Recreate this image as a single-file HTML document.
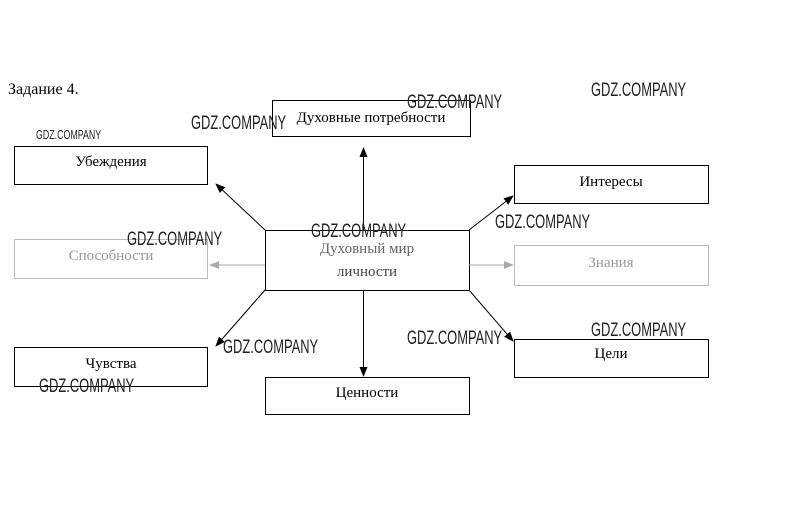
<!DOCTYPE html>
<html><head><meta charset="utf-8"><style>
html,body{margin:0;padding:0;background:#fff;}
svg{display:block}
.t{font-family:"Liberation Serif","Noto Serif CJK SC",serif;font-size:15px;fill:#000}
.w{font-family:"Liberation Sans","DejaVu Sans",sans-serif;fill:#222}
</style></head><body>
<svg width="810" height="518" viewBox="0 0 810 518" xmlns="http://www.w3.org/2000/svg">
<defs>
<marker id="a" markerWidth="10" markerHeight="8" refX="9" refY="4" orient="auto" markerUnits="userSpaceOnUse"><path d="M0,0 L10,4 L0,8 z" fill="#000"/></marker>
<marker id="g" markerWidth="10" markerHeight="8" refX="9" refY="4" orient="auto" markerUnits="userSpaceOnUse"><path d="M0,0 L10,4 L0,8 z" fill="#aaa"/></marker>
</defs>
<text x="8" y="94" class="t" style="font-size:16px">Задание 4.</text>
<g fill="none" stroke="#000" stroke-width="1">
<rect x="272.5" y="100.5" width="198" height="36"/>
<rect x="14.5" y="146.5" width="193" height="38"/>
<rect x="514.5" y="165.5" width="194" height="38"/>
<rect x="265.5" y="230.5" width="204" height="60"/>
<rect x="14.5" y="347.5" width="193" height="39"/>
<rect x="514.5" y="339.5" width="194" height="38"/>
<rect x="265.5" y="377.5" width="204" height="37"/>
</g>
<g fill="none" stroke="#bbb" stroke-width="1">
<rect x="14.5" y="239.5" width="193" height="39"/>
<rect x="514.5" y="245.5" width="194" height="40"/>
</g>
<g stroke="#000" stroke-width="1">
<line x1="363.5" y1="230" x2="363.5" y2="148" marker-end="url(#a)"/>
<line x1="265" y1="230" x2="216" y2="184" marker-end="url(#a)"/>
<line x1="469" y1="230" x2="513" y2="196" marker-end="url(#a)"/>
<line x1="265" y1="290" x2="216" y2="346" marker-end="url(#a)"/>
<line x1="469" y1="290" x2="513" y2="341" marker-end="url(#a)"/>
<line x1="363.5" y1="290" x2="363.5" y2="376" marker-end="url(#a)"/>
</g>
<g stroke="#aaa" stroke-width="1">
<line x1="265" y1="265" x2="210" y2="265" marker-end="url(#g)"/>
<line x1="469" y1="265" x2="513" y2="265" marker-end="url(#g)"/>
</g>
<text x="371" y="122" class="t" text-anchor="middle">Духовные потребности</text>
<text x="111" y="166" class="t" text-anchor="middle">Убеждения</text>
<text x="611" y="186" class="t" text-anchor="middle">Интересы</text>
<text x="367" y="253" class="t" text-anchor="middle" style="fill:#666">Духовный мир</text>
<text x="367" y="276" class="t" text-anchor="middle" style="fill:#444">личности</text>
<text x="111" y="260" class="t" text-anchor="middle" style="fill:#999">Способности</text>
<text x="611" y="267" class="t" text-anchor="middle" style="fill:#999">Знания</text>
<text x="111" y="368" class="t" text-anchor="middle">Чувства</text>
<text x="611" y="358" class="t" text-anchor="middle">Цели</text>
<text x="367" y="397" class="t" text-anchor="middle">Ценности</text>
<g class="w">
<text transform="translate(407,108) scale(0.68,1)" style="font-size:19px">GDZ.COMPANY</text>
<text transform="translate(591,96) scale(0.68,1)" style="font-size:19px">GDZ.COMPANY</text>
<text transform="translate(191,129) scale(0.68,1)" style="font-size:19px">GDZ.COMPANY</text>
<text transform="translate(36,139) scale(0.68,1)" style="font-size:13px">GDZ.COMPANY</text>
<text transform="translate(311,237) scale(0.68,1)" style="font-size:19px">GDZ.COMPANY</text>
<text transform="translate(495,228) scale(0.68,1)" style="font-size:19px">GDZ.COMPANY</text>
<text transform="translate(127,245) scale(0.68,1)" style="font-size:19px">GDZ.COMPANY</text>
<text transform="translate(407,344) scale(0.68,1)" style="font-size:19px">GDZ.COMPANY</text>
<text transform="translate(591,336) scale(0.68,1)" style="font-size:19px">GDZ.COMPANY</text>
<text transform="translate(223,353) scale(0.68,1)" style="font-size:19px">GDZ.COMPANY</text>
<text transform="translate(39,392) scale(0.68,1)" style="font-size:19px">GDZ.COMPANY</text>
</g>
</svg>
</body></html>
